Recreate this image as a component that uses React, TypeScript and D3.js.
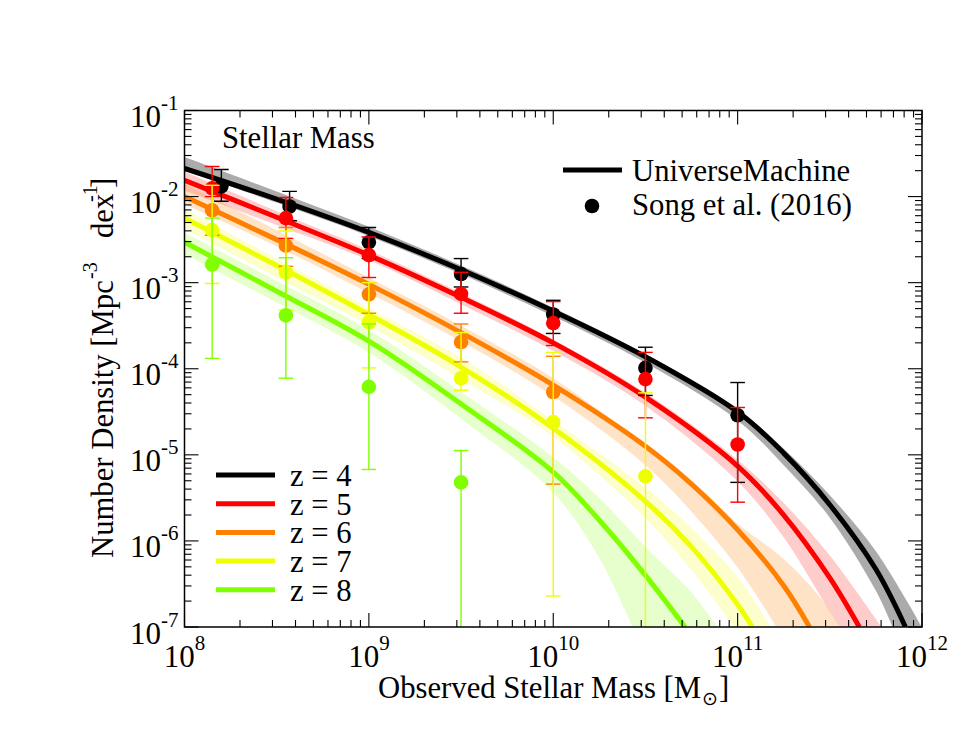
import React from 'react';
import * as d3 from 'd3';

// all values are log10: [log M*, log number density]
type Pt = [number, number];

const redshifts = [4, 5, 6, 7, 8];
const colors = ['#000000', '#ff0000', '#ff8000', '#eeff00', '#80ff00'];
const bandOpacity = [0.33, 0.2, 0.22, 0.2, 0.2];

const lineZ4: Pt[] = [[8, -1.673], [8.5, -2.03], [9, -2.416], [9.5, -2.85], [10, -3.33], [10.5, -3.86], [11, -4.5], [11.25, -4.98], [11.5, -5.58], [11.75, -6.33], [11.91, -7]];
const lineZ5: Pt[] = [[8, -1.81], [8.5, -2.24], [9, -2.68], [9.5, -3.17], [10, -3.7], [10.5, -4.33], [11, -5.13], [11.25, -5.7], [11.5, -6.43], [11.66, -7]];
const lineZ6: Pt[] = [[8, -2], [8.5, -2.5], [9, -3.02], [9.5, -3.58], [10, -4.19], [10.5, -4.9], [10.75, -5.34], [11, -5.87], [11.25, -6.52], [11.39, -7]];
const lineZ7: Pt[] = [[8, -2.25], [8.5, -2.8], [9, -3.37], [9.5, -3.98], [10, -4.69], [10.5, -5.54], [10.75, -6.07], [11, -6.74], [11.08, -7]];
const lineZ8: Pt[] = [[8, -2.53], [8.5, -3.1], [9, -3.68], [9.5, -4.41], [10, -5.2], [10.25, -5.76], [10.5, -6.4], [10.715, -7]];
const lines = [lineZ4, lineZ5, lineZ6, lineZ7, lineZ8];

const upperZ4: Pt[] = [[8, -1.54], [8.5, -1.94], [9, -2.35], [9.5, -2.8], [10, -3.29], [10.5, -3.83], [11, -4.47], [11.25, -4.93], [11.5, -5.47], [11.75, -6.12], [12, -7]];
const lowerZ4: Pt[] = [[8, -1.7], [8.5, -2.07], [9, -2.46], [9.5, -2.9], [10, -3.39], [10.5, -3.93], [11, -4.6], [11.25, -5.12], [11.5, -5.73], [11.75, -6.58], [11.84, -7]];
const upperZ5: Pt[] = [[8, -1.71], [8.5, -2.17], [9, -2.62], [9.5, -3.12], [10, -3.66], [10.5, -4.28], [11, -5.06], [11.25, -5.56], [11.5, -6.17], [11.78, -7]];
const lowerZ5: Pt[] = [[8, -1.93], [8.5, -2.33], [9, -2.74], [9.5, -3.25], [10, -3.79], [10.5, -4.43], [11, -5.31], [11.25, -5.96], [11.5, -6.82], [11.555, -7]];
const upperZ6: Pt[] = [[8, -1.85], [8.5, -2.39], [9, -2.94], [9.5, -3.5], [10, -4.11], [10.5, -4.89], [10.75, -5.3], [11, -5.8], [11.25, -6.21], [11.46, -6.69], [11.555, -7]];
const lowerZ6: Pt[] = [[8, -2.09], [8.5, -2.58], [9, -3.12], [9.5, -3.68], [10, -4.32], [10.5, -5.12], [10.75, -5.66], [11, -6.31], [11.21, -7]];
const upperZ7: Pt[] = [[8, -2.14], [8.5, -2.72], [9, -3.29], [9.5, -3.87], [10, -4.6], [10.5, -5.38], [10.75, -5.85], [11, -6.42], [11.18, -7]];
const lowerZ7: Pt[] = [[8, -2.37], [8.5, -2.94], [9, -3.5], [9.5, -4.12], [10, -4.79], [10.5, -5.74], [10.75, -6.34], [10.98, -7]];
const upperZ8: Pt[] = [[8, -2.42], [8.5, -2.98], [9, -3.55], [9.5, -4.27], [10, -5.03], [10.25, -5.5], [10.5, -6.07], [10.75, -6.6], [10.89, -7]];
const lowerZ8: Pt[] = [[8, -2.67], [8.5, -3.23], [9, -3.81], [9.5, -4.58], [10, -5.44], [10.25, -6.2], [10.43, -7]];
const uppers = [upperZ4, upperZ5, upperZ6, upperZ7, upperZ8];
const lowers = [lowerZ4, lowerZ5, lowerZ6, lowerZ7, lowerZ8];

// Song et al. (2016): mass bin, density, error bar top and bottom
const songMassZ4 = [8.2, 8.57, 9, 9.5, 10, 10.5, 11];
const songMass = [8.15, 8.55, 9, 9.5, 10, 10.5, 11];
const songZ4 = [-1.88, -2.115, -2.53, -2.9, -3.37, -3.99, -4.54];
const songZ4Hi = [-1.685, -1.94, -2.36, -2.72, -3.205, -3.75, -4.16];
const songZ4Lo = [-2.055, -2.28, -2.72, -3.05, -3.59, -4.31, -5.32];
const songZ5 = [-1.905, -2.25, -2.68, -3.13, -3.47, -4.12, -4.88];
const songZ5Hi = [-1.65, -2.01, -2.47, -2.88, -3.22, -3.81, -4.45];
const songZ5Lo = [-2, -2.485, -2.94, -3.355, -3.73, -4.57, -5.55];
const songZ6 = [-2.16, -2.57, -3.135, -3.69, -4.27];
const songZ6Hi = [-1.87, -2.36, -3, -3.48, -3.855];
const songZ6Lo = [-2.45, -2.81, -3.355, -3.92, -5.34];
const songZ7 = [-2.39, -2.88, -3.46, -4.11, -4.62, -5.25];
const songZ7Hi = [-1.87, -2.4, -3, -3.58, -3.81, -4.28];
const songZ7Lo = [-3.01, -3.32, -3.99, -4.25, -6.64, -8];
const songZ8 = [-2.79, -3.38, -4.21, -5.32];
const songZ8Hi = [-2.25, -2.71, -3.48, -4.95];
const songZ8Lo = [-3.88, -4.11, -5.17, -8];
const songVals = [songZ4, songZ5, songZ6, songZ7, songZ8];
const songHi = [songZ4Hi, songZ5Hi, songZ6Hi, songZ7Hi, songZ8Hi];
const songLo = [songZ4Lo, songZ5Lo, songZ6Lo, songZ7Lo, songZ8Lo];

const xDecades = [8, 9, 10, 11, 12];
const yDecades = [-7, -6, -5, -4, -3, -2, -1];
const minorSteps = [2, 3, 4, 5, 6, 7, 8, 9];

const WIDTH = 955;
const HEIGHT = 738;
const left = 184.5;
const right = 922;
const top = 110.5;
const bottom = 627;
const SERIF = '"Liberation Serif", serif';

const x = d3.scaleLog().domain([1e8, 1e12]).range([left, right]);
const y = d3.scaleLog().domain([1e-7, 1e-1]).range([bottom, top]);

const line = d3
  .line<Pt>()
  .x(d => x(10 ** d[0]))
  .y(d => y(10 ** d[1]))
  .curve(d3.curveCatmullRom.alpha(0.5));

const bandPath = (up: Pt[], lo: Pt[]) => `${line(up)}L${(line([...lo].reverse()) as string).slice(1)}Z`;

const xMinor = xDecades.slice(0, -1).flatMap(d => minorSteps.map(s => s * 10 ** d));
const yMinor = yDecades.slice(0, -1).flatMap(d => minorSteps.map(s => s * 10 ** d));

export default function App() {
  return (
    <svg width={WIDTH} height={HEIGHT} style={{ position: 'fixed', left: 0, top: 0, background: '#fff' }} fontFamily={SERIF}>
      <defs>
        <clipPath id="plot">
          <rect x={left} y={top} width={right - left} height={bottom - top} />
        </clipPath>
      </defs>

      <g clipPath="url(#plot)">
        {redshifts.map((z, i) => (
          <path key={z} d={bandPath(uppers[i], lowers[i])} fill={colors[i]} fillOpacity={bandOpacity[i]} />
        ))}
        {redshifts.map((z, i) => (
          <path key={z} d={line(lines[i]) as string} fill="none" stroke={colors[i]} strokeWidth={5} />
        ))}
        {redshifts.map((z, i) => (
          <g key={z}>
            {songVals[i].map((v, j) => {
              const cx = x(10 ** (i === 0 ? songMassZ4[j] : songMass[j]));
              return (
                <g key={j} stroke={colors[i]} strokeWidth={1.4}>
                  <line x1={cx} x2={cx} y1={y(10 ** songHi[i][j])} y2={y(10 ** songLo[i][j])} />
                  <line x1={cx - 7.3} x2={cx + 7.3} y1={y(10 ** songHi[i][j])} y2={y(10 ** songHi[i][j])} />
                  <line x1={cx - 7.3} x2={cx + 7.3} y1={y(10 ** songLo[i][j])} y2={y(10 ** songLo[i][j])} />
                  <circle cx={cx} cy={y(10 ** v)} r={7.3} fill={colors[i]} stroke="none" />
                </g>
              );
            })}
          </g>
        ))}
      </g>

      {/* frame and log ticks, mirrored on all four sides */}
      <rect x={left} y={top} width={right - left} height={bottom - top} fill="none" stroke="#000" strokeWidth={1.5} />
      <g stroke="#000" strokeWidth={1.1}>
        {xMinor.map(v => (
          <g key={v}>
            <line x1={x(v)} x2={x(v)} y1={bottom} y2={bottom - 7} />
            <line x1={x(v)} x2={x(v)} y1={top} y2={top + 7} />
          </g>
        ))}
        {xDecades.map(d => (
          <g key={d}>
            <line x1={x(10 ** d)} x2={x(10 ** d)} y1={bottom} y2={bottom - 14} />
            <line x1={x(10 ** d)} x2={x(10 ** d)} y1={top} y2={top + 14} />
          </g>
        ))}
        {yMinor.map(v => (
          <g key={v}>
            <line x1={left} x2={left + 7} y1={y(v)} y2={y(v)} />
            <line x1={right} x2={right - 7} y1={y(v)} y2={y(v)} />
          </g>
        ))}
        {yDecades.map(d => (
          <g key={d}>
            <line x1={left} x2={left + 14} y1={y(10 ** d)} y2={y(10 ** d)} />
            <line x1={right} x2={right - 14} y1={y(10 ** d)} y2={y(10 ** d)} />
          </g>
        ))}
      </g>

      {xDecades.map(d => (
        <text key={d} x={x(10 ** d)} y={667} fontSize={31} textAnchor="middle" fill="#000">
          10
          <tspan fontSize={21} dy={-17}>{d}</tspan>
        </text>
      ))}
      {yDecades.map(d => (
        <text key={d} x={130} y={y(10 ** d) + 16.5} fontSize={31} fill="#000">
          10
          <tspan fontSize={21} dy={-17}>{d}</tspan>
        </text>
      ))}

      <text x={378} y={698} fontSize={30.7} fill="#000">
        Observed Stellar Mass [M
        <tspan fontSize={19} dy={7} dx={1} fontFamily='"DejaVu Sans", sans-serif'>⊙</tspan>
        <tspan dy={-7} dx={1}>]</tspan>
      </text>
      <text transform="translate(113,558) rotate(-90)" fontSize={30.7} fill="#000">
        Number Density [Mpc
        <tspan x={279} fontSize={20} dy={-16}>-3</tspan>
        <tspan x={320} dy={16}>dex</tspan>
        <tspan x={356} fontSize={20} dy={-16}>-1</tspan>
        <tspan x={370} dy={16}>]</tspan>
      </text>
      <text x={222} y={148} fontSize={30.7} fill="#000">Stellar Mass</text>

      <line x1={563} x2={622} y1={170} y2={170} stroke="#000" strokeWidth={5} />
      <text x={632} y={181} fontSize={30.7} fill="#000">UniverseMachine</text>
      <circle cx={592} cy={206} r={7.3} fill="#000" />
      <text x={632} y={215} fontSize={30.7} fill="#000">Song et al. (2016)</text>

      {redshifts.map((z, i) => {
        const ly = 475 + i * 28.7;
        return (
          <g key={z}>
            <line x1={216} x2={275} y1={ly} y2={ly} stroke={colors[i]} strokeWidth={5} />
            <text x={290} y={ly + 11} fontSize={30.7} fill="#000">{`z = ${z}`}</text>
          </g>
        );
      })}
    </svg>
  );
}
